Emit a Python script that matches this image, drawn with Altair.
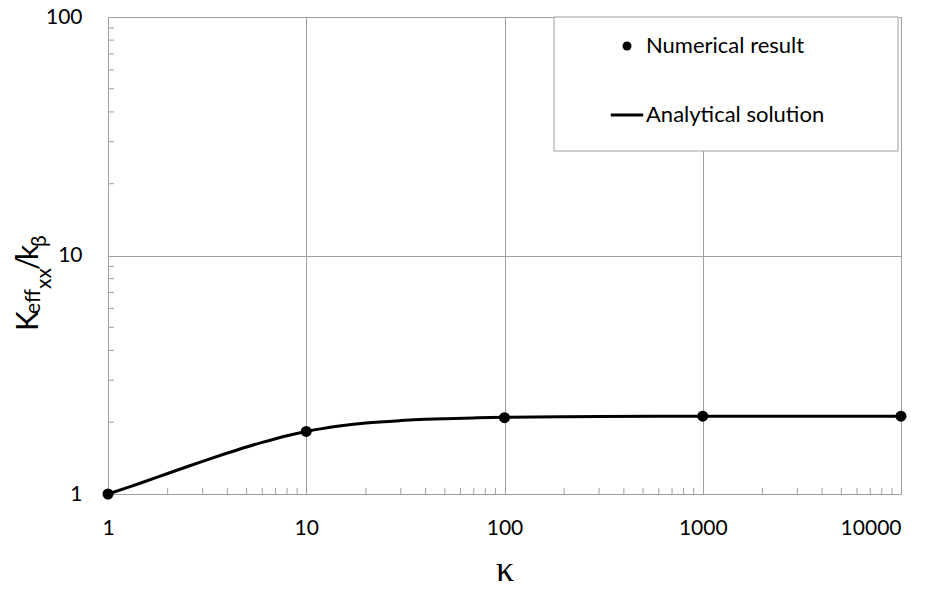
import altair as alt
import pandas as pd

# ---- data ----
kappa_pts = [1, 10, 100, 1000, 10000]
keff_pts = [1.0, 1.83, 2.09, 2.12, 2.12]

kappa_curve = [1, 1.25, 1.5, 2, 2.5, 3, 4, 5, 6, 7, 8, 10, 12, 15, 20, 30, 40, 50, 70,
               100, 200, 300, 1000, 10000]
keff_curve = [1.0, 1.064, 1.120, 1.219, 1.301, 1.371, 1.485, 1.575, 1.646, 1.705, 1.754,
              1.828, 1.880, 1.931, 1.984, 2.032, 2.057, 2.070, 2.085,
              2.097, 2.109, 2.113, 2.117, 2.118]

x_major = [1, 10, 100, 1000, 10000]
y_major = [1, 10, 100]
x_minor = [2, 3, 4, 5, 6, 7, 8, 9,
           20, 30, 40, 50, 60, 70, 80, 90,
           200, 300, 400, 500, 600, 700, 800, 900,
           2000, 3000, 4000, 5000, 6000, 7000, 8000, 9000]
y_minor = [2, 3, 4, 5, 6, 7, 8, 9,
           20, 30, 40, 50, 60, 70, 80, 90]
series = ["Numerical result", "Analytical solution"]

# ---- style ----
W, H = 793, 477
GRID = "#a0a0a0"
FONT = "Lato"
CIRCLE = "circle"
BAR = "M-3.6,-0.34L3.6,-0.34L3.6,0.34L-3.6,0.34Z"   # filled bar used as the line symbol

pts = pd.DataFrame({"kappa": kappa_pts, "keff": keff_pts, "series": series[0]})
curve = pd.DataFrame({"kappa": kappa_curve, "keff": keff_curve})
xmin = pd.DataFrame({"kappa": x_minor})
ymin = pd.DataFrame({"keff": y_minor})
one = pd.DataFrame({"a": [0]})

xscale = alt.Scale(type="log", domain=[1, 10000], nice=False)
yscale = alt.Scale(type="log", domain=[1, 100], nice=False)

xaxis = alt.Axis(values=x_major, format="d", grid=True, gridColor=GRID, gridWidth=1,
                 domain=False, ticks=False, tickSize=0, labelFont=FONT, labelFontSize=21,
                 labelColor="black", labelPadding=23, labelFlush=False,
                 labelAlign=alt.ExprRef(expr="datum.value >= 10000 ? 'right' : 'center'"),
                 title="κ", titleFont="Liberation Serif", titleFontSize=36,
                 titleFontWeight="normal", titleColor="black", titlePadding=14)
yaxis = alt.Axis(values=y_major, format="d", grid=True, gridColor=GRID, gridWidth=1,
                 domain=False, ticks=False, tickSize=0, labelFont=FONT, labelFontSize=21,
                 labelColor="black", labelPadding=26, labelFlush=False, title=None)

X = alt.X("kappa:Q", scale=xscale, axis=xaxis, title="κ")
Y = alt.Y("keff:Q", scale=yscale, axis=yaxis, title=None)

minor_x = alt.Chart(xmin).mark_rule(color=GRID, strokeWidth=1).encode(
    x=X, y=alt.value(H), y2=alt.value(H - 6))
minor_y = alt.Chart(ymin).mark_rule(color=GRID, strokeWidth=1).encode(
    y=Y, x=alt.value(0), x2=alt.value(6))

line = alt.Chart(curve).mark_line(color="black", strokeWidth=3, interpolate="monotone").encode(
    x=X, y=Y)

points = alt.Chart(pts).mark_point(filled=True, color="black", size=121, opacity=1,
                                   strokeWidth=0).encode(
    x=X, y=Y,
    shape=alt.Shape("series:N",
                    scale=alt.Scale(domain=series, range=[CIRCLE, BAR]),
                    legend=alt.Legend(orient="none", legendX=508, legendY=18, title=None,
                                      labelFont=FONT, labelFontSize=22, labelColor="black",
                                      labelLimit=300, symbolSize=81, symbolStrokeWidth=0,
                                      symbolFillColor="black",
                                      labelOffset=8, rowPadding=47, padding=0)))

box = alt.Chart(one).mark_rect(fill="white", stroke=GRID, strokeWidth=1).encode(
    x=alt.value(446), x2=alt.value(790), y=alt.value(0), y2=alt.value(134))

def label(txt, size, x, y):
    return alt.Chart(one).mark_text(text=txt, angle=270, align="left", baseline="alphabetic",
                                    font=FONT, fontSize=size, color="black").encode(
        x=alt.value(x), y=alt.value(y))

ytitle = [
    label("K", 30, -70, 314),
    label("eff", 21, -68, 297),
    label("xx", 21, -57, 272),
    label("/", 30, -70, 253),
    label("k", 30, -70, 243),
    label("β", 21, -62, 230),
]

chart = alt.layer(minor_x, minor_y, line, points, box, *ytitle).properties(
    width=W, height=H,
    autosize=alt.AutoSizeParams(type="none"),
    padding={"left": 100, "top": 9, "right": 26, "bottom": 96},
).configure_view(stroke=GRID, strokeWidth=1).configure(background="white")

chart.save("out.html", embed_options={"renderer": "svg", "actions": False})
